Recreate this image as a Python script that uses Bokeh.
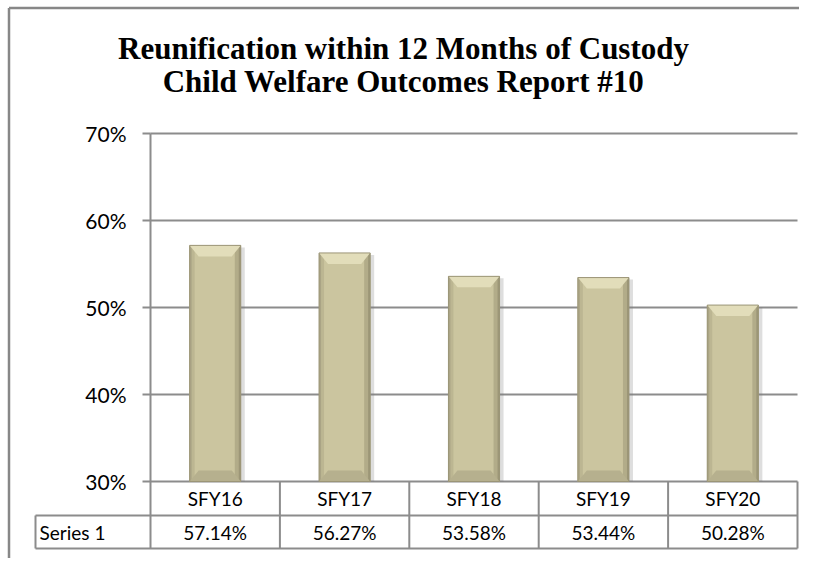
from bokeh.plotting import figure
from bokeh.models import Range1d, LinearAxis, FixedTicker
from bokeh.core.properties import value
from bokeh.embed import file_html
from bokeh.resources import INLINE

# ---- data ----
categories = ["SFY16", "SFY17", "SFY18", "SFY19", "SFY20"]
values = [57.14, 56.27, 53.58, 53.44, 50.28]
series_name = "Series 1"
y_ticks = [30, 40, 50, 60, 70]
y_tick_labels = ["30%", "40%", "50%", "60%", "70%"]
title_lines = ["Reunification within 12 Months of Custody",
               "Child Welfare Outcomes Report #10"]

# ---- layout (pixel geometry of the picture) ----
W, H = 799, 558
X0, CW = 150.0, 129.4          # x of category start, column width
Y30, PPU = 481.0, 8.7          # y of 30%, pixels per percent
BASE = y_ticks[0]


def ux(px):
    return (px - X0) / CW


def vy(py):
    return BASE + (Y30 - py) / PPU


ROW_MID, TABLE_BOT, CELL_LEFT = 515.0, 548.0, 35.0
GRID = "#8c8c8c"
FONT = value("Lato")

p = figure(width=W, height=H, x_range=Range1d(ux(0), ux(W)),
           y_range=Range1d(vy(H), vy(0)), output_backend="svg",
           toolbar_location=None, min_border=0, x_axis_type=None, y_axis_type=None)
p.outline_line_color = None
p.background_fill_color = "white"
p.border_fill_color = "white"

n = len(categories)

# outer chart border (left and top)
p.segment(x0=[ux(8.5), ux(8.5)], y0=[vy(7.5), vy(7.5)], x1=[ux(8.5), ux(W)], y1=[vy(H), vy(7.5)],
          line_color="#878787", line_width=2.5)

# gridlines
p.segment(x0=[0] * len(y_ticks), x1=[n] * len(y_ticks), y0=y_ticks, y1=y_ticks,
          line_color=GRID, line_width=2)

# y axis placed at category start
yaxis = LinearAxis(fixed_location=0, bounds=(vy(TABLE_BOT), y_ticks[-1]),
                   ticker=FixedTicker(ticks=y_ticks),
                   major_label_overrides={t: l for t, l in zip(y_ticks, y_tick_labels)})
yaxis.axis_line_color = GRID
yaxis.axis_line_width = 2
yaxis.major_tick_line_color = GRID
yaxis.major_tick_line_width = 2
yaxis.major_tick_out = 8
yaxis.major_tick_in = 0
yaxis.minor_tick_line_color = None
yaxis.major_label_standoff = 16
yaxis.major_label_text_font = "Lato"
yaxis.major_label_text_font_size = "21px"
yaxis.major_label_text_color = "black"
p.add_layout(yaxis, "left")

# bars with bevel effect
BW = 0.395
bh = 11 / PPU
bwx = 9 / CW
xs = [i + 0.5 for i in range(n)]
L = [x - BW / 2 for x in xs]
R = [x + BW / 2 for x in xs]

# shadow
p.quad(left=[l + 3 / CW for l in L], right=[r + 4 / CW for r in R],
       top=[v - 2 / PPU for v in values], bottom=[BASE] * n,
       fill_color="#7a7a7a", fill_alpha=0.25, line_color=None)
# body
p.quad(left=L, right=R, top=values, bottom=[BASE] * n,
       fill_color="#cbc59f", line_color=None)
# side shading
p.quad(left=L, right=[l + 5 / CW for l in L], top=values, bottom=[BASE] * n,
       fill_color="#bcb692", line_color=None)
p.quad(left=L, right=[l + 2 / CW for l in L], top=values, bottom=[BASE] * n,
       fill_color="#aaa485", line_color=None)
p.quad(left=[r - 6 / CW for r in R], right=R, top=values, bottom=[BASE] * n,
       fill_color="#b2ac89", line_color=None)
p.quad(left=[r - 2 / CW for r in R], right=R, top=values, bottom=[BASE] * n,
       fill_color="#9c9677", line_color=None)
# top bevel
p.patches(xs=[[l, r, r - bwx, l + bwx] for l, r in zip(L, R)],
          ys=[[v, v, v - bh, v - bh] for v in values],
          fill_color="#e2ddba", line_color=None)
# bottom bevel
p.patches(xs=[[l, r, r - bwx, l + bwx] for l, r in zip(L, R)],
          ys=[[BASE, BASE, BASE + bh, BASE + bh] for _ in values],
          fill_color="#b6b08e", line_color=None)
# outline
p.quad(left=L, right=R, top=values, bottom=[BASE] * n,
       fill_color=None, line_color="#9b9577", line_width=1)

# data table lines
p.segment(x0=list(range(1, n + 1)), x1=list(range(1, n + 1)),
          y0=[BASE] * n, y1=[vy(TABLE_BOT)] * n, line_color=GRID, line_width=2)
p.segment(x0=[ux(CELL_LEFT)] * 3, x1=[n, n, ux(CELL_LEFT)],
          y0=[vy(ROW_MID), vy(TABLE_BOT), vy(ROW_MID)],
          y1=[vy(ROW_MID), vy(TABLE_BOT), vy(TABLE_BOT)],
          line_color=GRID, line_width=2)

# table texts
p.text(x=xs, y=[vy((Y30 + ROW_MID) / 2)] * n, text=categories,
       text_font=FONT, text_font_size="19px", text_align="center",
       text_baseline="middle", text_color="black")
p.text(x=xs, y=[vy((ROW_MID + TABLE_BOT) / 2)] * n,
       text=[f"{v:.2f}%" for v in values],
       text_font=FONT, text_font_size="19px", text_align="center",
       text_baseline="middle", text_color="black")
p.text(x=[ux(CELL_LEFT + 4)], y=[vy((ROW_MID + TABLE_BOT) / 2)], text=[series_name],
       text_font=FONT, text_font_size="19px", text_align="left",
       text_baseline="middle", text_color="black")

# title
p.text(x=[ux(403)] * 2, y=[vy(48), vy(81)], text=title_lines,
       text_font=value("Liberation Serif"), text_font_style="bold",
       text_font_size="31px", text_align="center", text_baseline="alphabetic",
       text_color="black")

open("out.html", "w").write(file_html(p, INLINE))
